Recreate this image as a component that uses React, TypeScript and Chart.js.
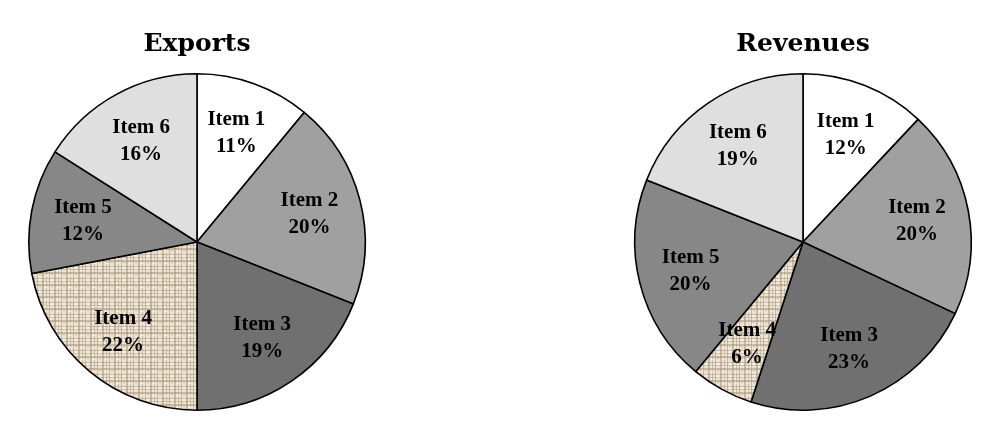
import { ArcElement, Chart, PieController, Title, Tooltip } from 'chart.js';
import { useEffect, useRef } from 'react';

Chart.register(PieController, ArcElement, Title, Tooltip);

const items = ['Item 1', 'Item 2', 'Item 3', 'Item 4', 'Item 5', 'Item 6'];
const exportsShare = [11, 20, 19, 22, 12, 16];
const revenuesShare = [12, 20, 23, 6, 20, 19];

// woven beige texture used for Item 4
const makeWeave = () => {
  const tile = document.createElement('canvas');
  tile.width = 12;
  tile.height = 12;
  const t = tile.getContext('2d')!;
  t.fillStyle = '#ece5d6';
  t.fillRect(0, 0, 12, 12);
  t.fillStyle = 'rgba(165,142,110,0.5)';
  t.fillRect(1, 0, 1, 12);
  t.fillRect(6, 0, 2, 12);
  t.fillRect(0, 2, 12, 1);
  t.fillRect(0, 8, 12, 2);
  t.fillStyle = 'rgba(150,128,96,0.35)';
  t.fillRect(10, 0, 1, 12);
  t.fillRect(0, 5, 12, 1);
  t.fillRect(3, 10, 2, 1);
  t.fillStyle = 'rgba(255,255,255,0.7)';
  t.fillRect(3, 3, 2, 2);
  t.fillRect(9, 11, 2, 1);
  t.fillRect(8, 6, 2, 1);
  return t.createPattern(tile, 'repeat')!;
};

const sliceLabels = {
  id: 'sliceLabels',
  afterDatasetsDraw(chart: Chart) {
    const { ctx } = chart;
    const meta = chart.getDatasetMeta(0);
    const values = chart.data.datasets[0].data as number[];
    ctx.save();
    ctx.font = 'bold 21px "Liberation Serif", "Times New Roman", serif';
    ctx.fillStyle = '#000';
    ctx.textAlign = 'center';
    ctx.textBaseline = 'middle';
    meta.data.forEach((el: any, i: number) => {
      const { x, y, startAngle, endAngle, outerRadius } = el.getProps(
        ['x', 'y', 'startAngle', 'endAngle', 'outerRadius'],
        true,
      );
      const mid = (startAngle + endAngle) / 2;
      const r = outerRadius * 0.69;
      const cx = x + Math.cos(mid) * r;
      const cy = y + Math.sin(mid) * r;
      ctx.fillText(String(chart.data.labels![i]), cx, cy - 13);
      ctx.fillText(`${values[i]}%`, cx, cy + 14);
    });
    ctx.restore();
  },
};

type Props = {
  title: string;
  values: number[];
  left: number;
};

const PieBox = ({ title, values, left }: Props) => {
  const canvasRef = useRef<HTMLCanvasElement>(null);

  useEffect(() => {
    if (!canvasRef.current) return;
    const ctx = canvasRef.current.getContext('2d');
    if (!ctx) return;

    const colors = ['#ffffff', '#a0a0a0', '#707070', makeWeave(), '#878787', '#dfdfdf'];

    const chart = new Chart(ctx, {
      type: 'pie',
      data: {
        labels: items,
        datasets: [
          {
            data: values,
            backgroundColor: colors,
            borderColor: '#000',
            borderWidth: 1.6,
            hoverOffset: 0,
          },
        ],
      },
      options: {
        responsive: true,
        maintainAspectRatio: false,
        animation: false,
        layout: { padding: { bottom: 27 } },
        plugins: {
          legend: { display: false },
          tooltip: { enabled: false },
          title: {
            display: true,
            text: title,
            color: '#000',
            font: { family: '"DejaVu Serif", serif', size: 25, weight: 'bold', lineHeight: 1.2 },
            padding: { top: 29, bottom: 14 },
          },
        },
      },
      plugins: [sliceLabels],
    });

    return () => {
      chart.destroy();
    };
  }, [title, values]);

  return (
    <div style={{ position: 'absolute', left, top: 0, width: 394, height: 438 }}>
      <canvas ref={canvasRef}></canvas>
    </div>
  );
};

export default function App() {
  return (
    <div style={{ position: 'absolute', left: 0, top: 0, width: 1001, height: 438, background: '#fff' }}>
      <PieBox title="Exports" values={exportsShare} left={0} />
      <PieBox title="Revenues" values={revenuesShare} left={606} />
    </div>
  );
}
